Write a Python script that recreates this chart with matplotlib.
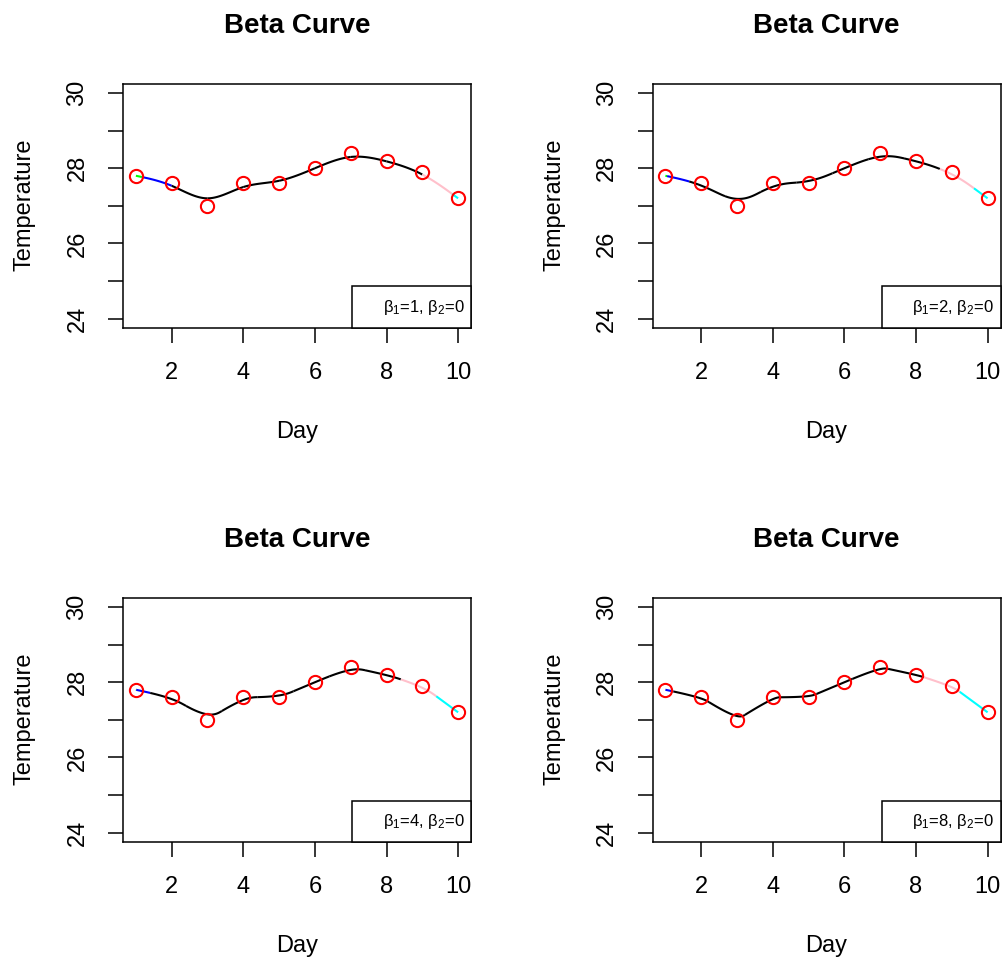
import numpy as np
import matplotlib
matplotlib.use("Agg")
import matplotlib.pyplot as plt
from matplotlib.patches import Rectangle

plt.rcParams['font.family'] = ['Liberation Sans', 'DejaVu Sans']
plt.rcParams['mathtext.fontset'] = 'custom'
plt.rcParams['mathtext.rm'] = 'Liberation Sans'
plt.rcParams['mathtext.it'] = 'Liberation Sans:italic'

# Daily temperature readings
days = [1, 2, 3, 4, 5, 6, 7, 8, 9, 10]
temps = [27.8, 27.6, 27.0, 27.6, 27.6, 28.0, 28.4, 28.2, 27.9, 27.2]

# Beta-spline shape parameters for the four panels (bias, tension)
beta1_values = [1, 2, 4, 8]
beta2_values = [0, 0, 0, 0]

x_ticks = [2, 4, 6, 8, 10]
y_ticks = [24, 25, 26, 27, 28, 29, 30]
y_ticklabels = ['24', '', '26', '', '28', '', '30']

# colours of the spline segments: first two and last two are highlighted
first_seg_colors = ['#00ff00', '#0000ff']
last_seg_colors = ['#ffc0cb', '#00ffff']


def beta_basis(u, b1, b2):
    d = 2 * b1**3 + 4 * b1**2 + 4 * b1 + b2 + 2
    bm2 = 2 * b1**3 * (1 - u)**3
    bm1 = (2 * b1**3 * u * (u**2 - 3 * u + 3) + 2 * b1**2 * (u**3 - 3 * u**2 + 2)
           + 2 * b1 * (u**3 - 3 * u + 2) + b2 * (2 * u**3 - 3 * u**2 + 1))
    b0 = (2 * b1**2 * u**2 * (-u + 3) + 2 * b1 * u * (-u**2 + 3)
          + b2 * u**2 * (-2 * u + 3) + 2 * (-u**3 + 1))
    bp1 = 2 * u**3
    return np.array([bm2, bm1, b0, bp1]) / d


def beta_segments(xs, ys, b1, b2, n=60):
    # triple the end control points so the curve starts and ends on them
    px = np.r_[[xs[0]] * 2, xs, [xs[-1]] * 2]
    py = np.r_[[ys[0]] * 2, ys, [ys[-1]] * 2]
    u = np.linspace(0, 1, n)
    B = beta_basis(u, b1, b2)
    segs = []
    for i in range(len(px) - 3):
        sx = B.T @ px[i:i + 4]
        sy = B.T @ py[i:i + 4]
        segs.append((sx, sy))
    return segs


W, H = 1005, 961
fig = plt.figure(figsize=(W / 100, H / 100), dpi=100)

base_left, base_top, base_right, base_bottom = 123, 84, 471, 327.7
col_off = [0, 529.5]
row_off = [0, 514]

for k, (b1, b2) in enumerate(zip(beta1_values, beta2_values)):
    r, c = divmod(k, 2)
    L = base_left + col_off[c]
    R = base_right + col_off[c]
    T = base_top + row_off[r]
    Bm = base_bottom + row_off[r]
    ax = fig.add_axes([L / W, 1 - Bm / H, (R - L) / W, (Bm - T) / H])
    ax.set_xlim(0.64, 10.36)
    ax.set_ylim(23.76, 30.24)

    segs = beta_segments(np.array(days, float), np.array(temps, float), b1, b2)
    nseg = len(segs)
    for i, (sx, sy) in enumerate(segs):
        if i < 2:
            col = first_seg_colors[i]
        elif i >= nseg - 2:
            col = last_seg_colors[i - (nseg - 2)]
        else:
            col = 'black'
        ax.plot(sx, sy, color=col, lw=1.5, zorder=2, solid_capstyle='butt')

    ax.plot(days, temps, 'o', mfc='none', mec='red', ms=9.5, mew=1.5, zorder=3)

    ax.set_xticks(x_ticks)
    ax.set_xticklabels([str(t) for t in x_ticks])
    ax.set_yticks(y_ticks)
    ax.set_yticklabels(y_ticklabels, rotation=90, va='center')
    ax.tick_params(direction='out', length=10.8, width=1.1, labelsize=17,
                   colors='black')
    ax.tick_params(axis='x', pad=14)
    ax.tick_params(axis='y', pad=14)
    for sp in ax.spines.values():
        sp.set_linewidth(1.1)

    # bottom-right label box with the parameter values
    bx0 = (352 - 123) / (471 - 123)
    by1 = (327.7 - 286.5) / (327.7 - 84)
    ax.add_patch(Rectangle((bx0, 0), 1 - bx0, by1, transform=ax.transAxes,
                           facecolor='white', edgecolor='black', lw=1.1,
                           zorder=5, clip_on=False))
    ax.text(0.982, by1 / 2, r'$\mathrm{\beta_1}$=%d, $\mathrm{\beta_2}$=%d' % (b1, b2),
            transform=ax.transAxes, ha='right', va='center', fontsize=12,
            zorder=6)

    cx = (L + R) / 2
    fig.text(cx / W, 1 - (33 + row_off[r]) / H, 'Beta Curve', ha='center',
             va='baseline', fontsize=20, fontweight='bold')
    fig.text(cx / W, 1 - (438 + row_off[r]) / H, 'Day', ha='center',
             va='baseline', fontsize=17)
    fig.text((30.5 + col_off[c]) / W, 1 - (205 + row_off[r]) / H, 'Temperature',
             ha='center', va='baseline', rotation=90, rotation_mode='anchor',
             fontsize=17)

fig.savefig('out.png', dpi=100)
